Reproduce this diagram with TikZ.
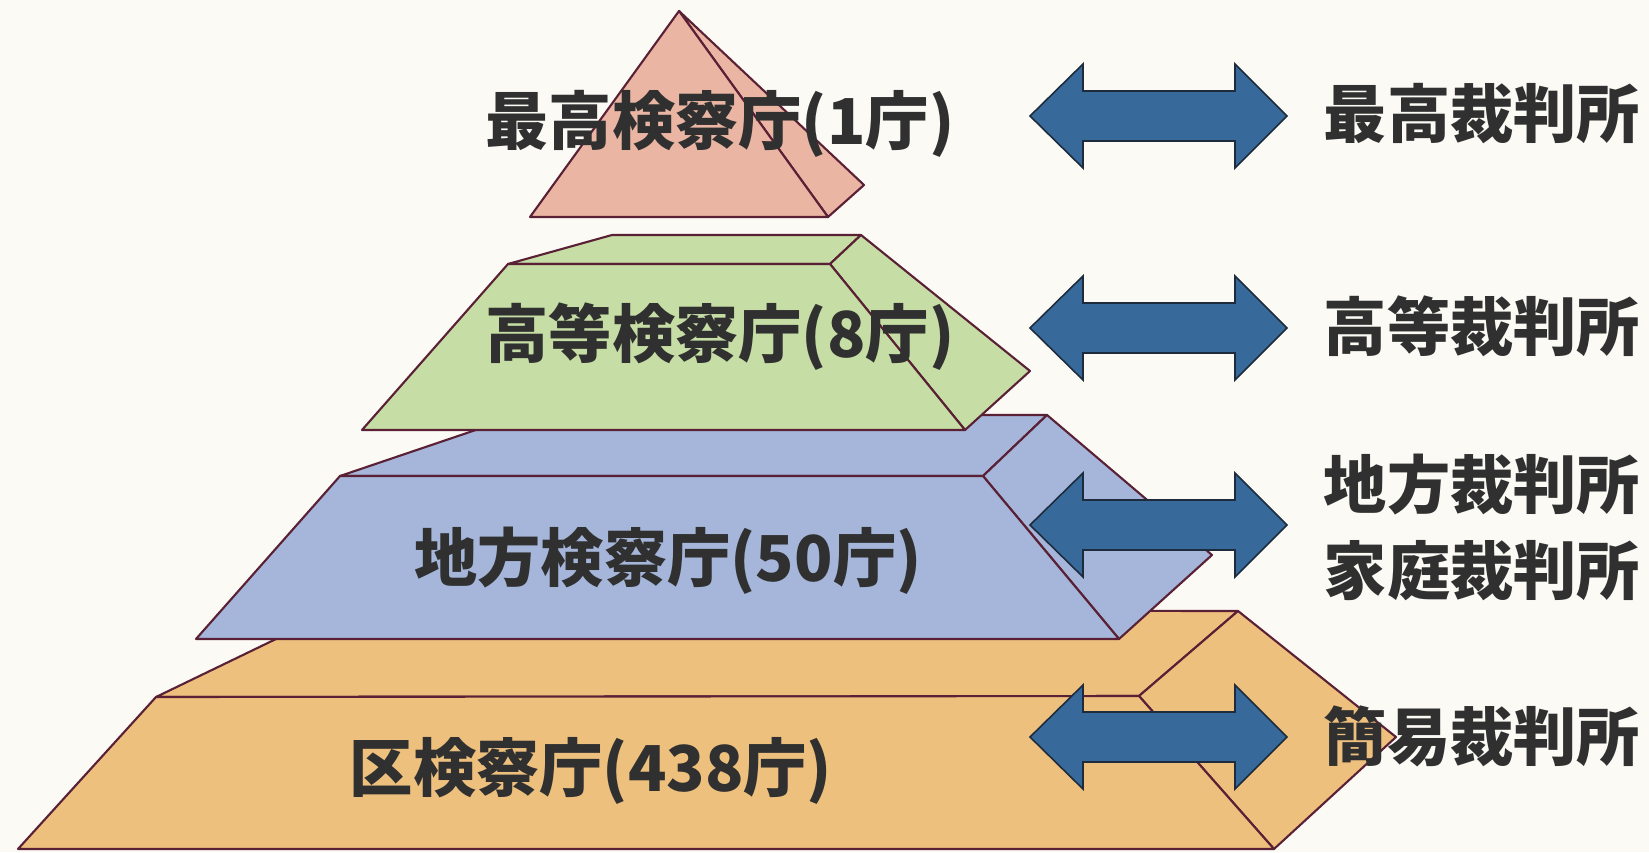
\documentclass[tikz,border=0pt]{standalone}
\usepackage{fontspec}
\newfontfamily\jpfont{Noto Sans CJK JP}

\definecolor{paper}{HTML}{FBFAF5}
\definecolor{edgecol}{HTML}{5A2035}
\definecolor{pinkface}{HTML}{EAB6A3}
\definecolor{greenface}{HTML}{C6DEA5}
\definecolor{blueface}{HTML}{A5B6DA}
\definecolor{orangeface}{HTML}{EEC07E}
\definecolor{arrowblue}{HTML}{376A9A}
\definecolor{arrowedge}{HTML}{1E2B3C}
\definecolor{labelgray}{HTML}{303030}

% double arrow between the two columns, centred at height #1
\newcommand{\dblarrow}[1]{
	\pgfmathsetmacro{\DAhu}{#1-52}
	\pgfmathsetmacro{\DAhd}{#1+52}
	\pgfmathsetmacro{\DAsu}{#1-25}
	\pgfmathsetmacro{\DAsd}{#1+25}
	\filldraw[arrowbox] (1030,#1) -- (1083,\DAhu) -- (1083,\DAsu) -- (1235,\DAsu) -- (1235,\DAhu) -- (1287,#1)
		-- (1235,\DAhd) -- (1235,\DAsd) -- (1083,\DAsd) -- (1083,\DAhd) -- cycle;
}

\begin{document}
\begin{tikzpicture}[x=0.02cm,y=-0.02cm,
	face/.style={draw=edgecol,line width=1.2pt,line join=round},
	arrowbox/.style={fill=arrowblue,draw=arrowedge,line width=0.9pt,line join=miter},
	tierlabel/.style={inner sep=0pt,text=labelgray,font=\jpfont\bfseries\fontsize{36}{40}\selectfont},
	courtlabel/.style={inner sep=0pt,text=labelgray,font=\jpfont\bfseries\fontsize{36}{40}\selectfont}]

\fill[paper] (0,0) rectangle (1649,852);
\useasboundingbox (0,0) rectangle (1649,852);

% ku (bottom)
\coordinate (oFLt) at (156,697);
\coordinate (oBLt) at (336,610);
\coordinate (oBRt) at (1238,611);
\coordinate (oFRt) at (1139,696);
\coordinate (oRo) at (1396,737);
\coordinate (oFRb) at (1274,849);
\coordinate (oFLb) at (18,849);
\filldraw[face,fill=orangeface] (oFLt) -- (oBLt) -- (oBRt) -- (oFRt) -- cycle;
\filldraw[face,fill=orangeface] (oFRt) -- (oBRt) -- (oRo) -- (oFRb) -- cycle;
\filldraw[face,fill=orangeface] (oFLt) -- (oFRt) -- (oFRb) -- (oFLb) -- cycle;

% chiho
\coordinate (bFLt) at (340,476);
\coordinate (bBLt) at (520,415);
\coordinate (bBRt) at (1047,415);
\coordinate (bFRt) at (983,476);
\coordinate (bRo) at (1212,555);
\coordinate (bFRb) at (1119,639);
\coordinate (bFLb) at (196,639);
\filldraw[face,fill=blueface] (bFLt) -- (bBLt) -- (bBRt) -- (bFRt) -- cycle;
\filldraw[face,fill=blueface] (bFRt) -- (bBRt) -- (bRo) -- (bFRb) -- cycle;
\filldraw[face,fill=blueface] (bFLt) -- (bFRt) -- (bFRb) -- (bFLb) -- cycle;

% koto
\coordinate (gFLt) at (508,264);
\coordinate (gBLt) at (612,235);
\coordinate (gBRt) at (861,235);
\coordinate (gFRt) at (830,264);
\coordinate (gRo) at (1030,371);
\coordinate (gFRb) at (965,430);
\coordinate (gFLb) at (362,430);
\filldraw[face,fill=greenface] (gFLt) -- (gBLt) -- (gBRt) -- (gFRt) -- cycle;
\filldraw[face,fill=greenface] (gFRt) -- (gBRt) -- (gRo) -- (gFRb) -- cycle;
\filldraw[face,fill=greenface] (gFLt) -- (gFRt) -- (gFRb) -- (gFLb) -- cycle;

% saiko (top)
\coordinate (pTop) at (679,11);
\coordinate (pL) at (530,217);
\coordinate (pF) at (828,217);
\coordinate (pB) at (864,185);
\filldraw[face,fill=pinkface] (pTop) -- (pF) -- (pB) -- cycle;
\filldraw[face,fill=pinkface] (pTop) -- (pL) -- (pF) -- cycle;

\dblarrow{116}
\dblarrow{328}
\dblarrow{525}
\dblarrow{737}

\node[tierlabel] (kenSaiko) at (720,124) {最高検察庁(1庁)};
\node[tierlabel] (kenKoto) at (720,337) {高等検察庁(8庁)};
\node[tierlabel] (kenChiho) at (668,561) {地方検察庁(50庁)};
\node[tierlabel] (kenKu) at (591,771) {区検察庁(438庁)};

\node[courtlabel] (saiSaiko) at (1482,114) {最高裁判所};
\node[courtlabel] (saiKoto) at (1482,326) {高等裁判所};
\node[courtlabel] (saiChiho) at (1482,485) {地方裁判所};
\node[courtlabel] (saiKatei) at (1482,571) {家庭裁判所};
\node[courtlabel] (saiKani) at (1482,736) {簡易裁判所};
\end{tikzpicture}
\end{document}
